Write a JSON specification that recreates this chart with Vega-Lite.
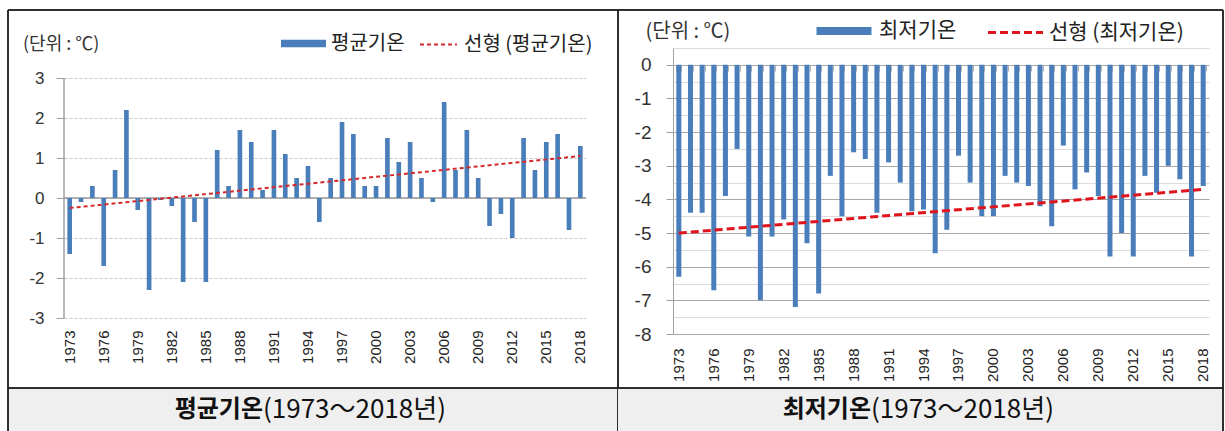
{
  "$schema": "https://vega.github.io/schema/vega-lite/v6.json",
  "background": "white",
  "padding": {"left": 7, "top": 9, "right": 3, "bottom": 0},
  "config": {"view": {"stroke": null}, "font": "Noto Sans CJK KR"},
  "datasets": {
    "mean": [
      {"year": 1973, "temp": -1.4}, {"year": 1974, "temp": -0.1}, {"year": 1975, "temp": 0.3}, {"year": 1976, "temp": -1.7},
      {"year": 1977, "temp": 0.7}, {"year": 1978, "temp": 2.2}, {"year": 1979, "temp": -0.3}, {"year": 1980, "temp": -2.3},
      {"year": 1981, "temp": -0.05}, {"year": 1982, "temp": -0.2}, {"year": 1983, "temp": -2.1}, {"year": 1984, "temp": -0.6},
      {"year": 1985, "temp": -2.1}, {"year": 1986, "temp": 1.2}, {"year": 1987, "temp": 0.3}, {"year": 1988, "temp": 1.7},
      {"year": 1989, "temp": 1.4}, {"year": 1990, "temp": 0.2}, {"year": 1991, "temp": 1.7}, {"year": 1992, "temp": 1.1},
      {"year": 1993, "temp": 0.5}, {"year": 1994, "temp": 0.8}, {"year": 1995, "temp": -0.6}, {"year": 1996, "temp": 0.5},
      {"year": 1997, "temp": 1.9}, {"year": 1998, "temp": 1.6}, {"year": 1999, "temp": 0.3}, {"year": 2000, "temp": 0.3},
      {"year": 2001, "temp": 1.5}, {"year": 2002, "temp": 0.9}, {"year": 2003, "temp": 1.4}, {"year": 2004, "temp": 0.5},
      {"year": 2005, "temp": -0.1}, {"year": 2006, "temp": 2.4}, {"year": 2007, "temp": 0.7}, {"year": 2008, "temp": 1.7},
      {"year": 2009, "temp": 0.5}, {"year": 2010, "temp": -0.7}, {"year": 2011, "temp": -0.4}, {"year": 2012, "temp": -1.0},
      {"year": 2013, "temp": 1.5}, {"year": 2014, "temp": 0.7}, {"year": 2015, "temp": 1.4}, {"year": 2016, "temp": 1.6},
      {"year": 2017, "temp": -0.8}, {"year": 2018, "temp": 1.3}
    ],
    "min": [
      {"year": 1973, "temp": -6.3}, {"year": 1974, "temp": -4.4}, {"year": 1975, "temp": -4.4}, {"year": 1976, "temp": -6.7},
      {"year": 1977, "temp": -3.9}, {"year": 1978, "temp": -2.5}, {"year": 1979, "temp": -5.1}, {"year": 1980, "temp": -7.0},
      {"year": 1981, "temp": -5.1}, {"year": 1982, "temp": -4.6}, {"year": 1983, "temp": -7.2}, {"year": 1984, "temp": -5.3},
      {"year": 1985, "temp": -6.8}, {"year": 1986, "temp": -3.3}, {"year": 1987, "temp": -4.5}, {"year": 1988, "temp": -2.6},
      {"year": 1989, "temp": -2.8}, {"year": 1990, "temp": -4.4}, {"year": 1991, "temp": -2.9}, {"year": 1992, "temp": -3.5},
      {"year": 1993, "temp": -4.35}, {"year": 1994, "temp": -4.3}, {"year": 1995, "temp": -5.6}, {"year": 1996, "temp": -4.9},
      {"year": 1997, "temp": -2.7}, {"year": 1998, "temp": -3.5}, {"year": 1999, "temp": -4.5}, {"year": 2000, "temp": -4.5},
      {"year": 2001, "temp": -3.3}, {"year": 2002, "temp": -3.5}, {"year": 2003, "temp": -3.6}, {"year": 2004, "temp": -4.2},
      {"year": 2005, "temp": -4.8}, {"year": 2006, "temp": -2.4}, {"year": 2007, "temp": -3.7}, {"year": 2008, "temp": -3.2},
      {"year": 2009, "temp": -3.9}, {"year": 2010, "temp": -5.7}, {"year": 2011, "temp": -5.0}, {"year": 2012, "temp": -5.7},
      {"year": 2013, "temp": -3.3}, {"year": 2014, "temp": -3.8}, {"year": 2015, "temp": -3.0}, {"year": 2016, "temp": -3.4},
      {"year": 2017, "temp": -5.7}, {"year": 2018, "temp": -3.6}
    ],
    "meanTrend": [{"year": 1973, "trend": -0.25}, {"year": 2018, "trend": 1.05}],
    "minTrend": [{"year": 1973, "trend": -5.0}, {"year": 2018, "trend": -3.7}],
    "units": [{"label": "(단위 : ℃)"}],
    "captions": [{"panel": "mean", "bold": "평균기온", "rest": "(1973～2018년)"}, {"panel": "min", "bold": "최저기온", "rest": "(1973～2018년)"}]
  },
  "columns": 6,
  "align": "each",
  "bounds": "flush",
  "spacing": 0,
  "resolve": {"scale": {"fill": "independent", "stroke": "independent"}},
  "concat": [
    {
      "width": 56, "height": 38,
      "layer": [
        {"data": {"name": "meanTrend"}, "mark": {"type": "rule", "color": "#222", "strokeWidth": 1.5}, "encoding": {"x": {"datum": 0, "type": "quantitative", "scale": {"domain": [0, 1], "nice": false}, "axis": null}}},
        {"data": {"name": "meanTrend"}, "mark": {"type": "rule", "color": "#222", "strokeWidth": 1.5}, "encoding": {"y": {"datum": 1, "type": "quantitative", "scale": {"domain": [0, 1], "nice": false}, "axis": null}}},
        {"data": {"name": "units"}, "mark": {"type": "text", "align": "left", "baseline": "middle", "dx": -13, "dy": 16, "fontSize": 18, "font": "Noto Sans CJK KR", "color": "#333"}, "encoding": {"text": {"field": "label"}}}
      ]
    },
    {
      "width": 522, "height": 38, "data": {"name": "meanTrend"},
      "mark": {"type": "rule", "color": "#222", "strokeWidth": 1.5},
      "encoding": {"y": {"datum": 1, "type": "quantitative", "scale": {"domain": [0, 1], "nice": false}, "axis": null}}
    },
    {
      "width": 32, "height": 38, "data": {"name": "meanTrend"},
      "layer": [
        {"mark": {"type": "rule", "color": "#222", "strokeWidth": 1.5}, "encoding": {"x": {"datum": 1, "type": "quantitative", "scale": {"domain": [0, 1], "nice": false}, "axis": null}}},
        {"mark": {"type": "rule", "color": "#222", "strokeWidth": 1.5}, "encoding": {"y": {"datum": 1, "type": "quantitative", "scale": {"domain": [0, 1], "nice": false}, "axis": null}}}
      ]
    },
    {
      "width": 55, "height": 38,
      "layer": [
        {"data": {"name": "meanTrend"}, "mark": {"type": "rule", "color": "#222", "strokeWidth": 1.5}, "encoding": {"y": {"datum": 1, "type": "quantitative", "scale": {"domain": [0, 1], "nice": false}, "axis": null}}},
        {"data": {"name": "units"}, "mark": {"type": "text", "align": "left", "baseline": "middle", "dx": 0, "dy": 3, "fontSize": 20, "font": "Noto Sans CJK KR", "color": "#333"}, "encoding": {"text": {"field": "label"}}}
      ]
    },
    {
      "width": 536, "height": 38, "data": {"name": "minTrend"},
      "mark": {"type": "rule", "color": "#222", "strokeWidth": 1.5},
      "encoding": {"y": {"datum": 1, "type": "quantitative", "scale": {"domain": [0, 1], "nice": false}, "axis": null}}
    },
    {
      "width": 14, "height": 38, "data": {"name": "minTrend"},
      "layer": [
        {"mark": {"type": "rule", "color": "#222", "strokeWidth": 1.5}, "encoding": {"x": {"datum": 1, "type": "quantitative", "scale": {"domain": [0, 1], "nice": false}, "axis": null}}},
        {"mark": {"type": "rule", "color": "#222", "strokeWidth": 1.5}, "encoding": {"y": {"datum": 1, "type": "quantitative", "scale": {"domain": [0, 1], "nice": false}, "axis": null}}}
      ]
    },

    {
      "width": 56, "height": 286, "data": {"name": "meanTrend"},
      "mark": {"type": "rule", "color": "#222", "strokeWidth": 1.5},
      "encoding": {"x": {"datum": 0, "type": "quantitative", "scale": {"domain": [0, 1], "nice": false}, "axis": null}}
    },
    {
      "width": 522, "height": 286,
      "resolve": {"scale": {"x": "independent"}, "axis": {"x": "independent"}},
      "layer": [
        {
          "data": {"name": "meanTrend"},
          "mark": {"type": "rule", "color": "#a0a0a0", "strokeWidth": 1},
          "encoding": {
            "x": {"datum": 0, "type": "quantitative", "scale": {"domain": [0, 1], "nice": false}, "axis": null},
            "y": {"datum": -3, "type": "quantitative"},
            "y2": {"datum": 3}
          }
        },
        {
          "layer": [
            {
              "data": {"name": "meanTrend"},
              "mark": {"type": "rule", "color": "#999", "strokeWidth": 1},
              "encoding": {"y": {"datum": 0, "type": "quantitative"}}
            },
            {
              "data": {"name": "mean"},
              "mark": {"type": "bar"},
              "encoding": {
                "x": {"field": "year", "type": "ordinal", "scale": {"paddingInner": 0.59, "paddingOuter": 0.295},
                  "axis": {"values": [1973, 1976, 1979, 1982, 1985, 1988, 1991, 1994, 1997, 2000, 2003, 2006, 2009, 2012, 2015, 2018],
                    "labelAngle": 270, "labelOverlap": false, "ticks": false, "domain": false, "grid": false, "labelPadding": -4, "labelFontSize": 15,
                    "labelFont": "Liberation Sans", "labelColor": "#222", "title": null}},
                "y": {"field": "temp", "type": "quantitative", "scale": {"domain": [-3.4, 3.75], "nice": false, "zero": false},
                  "axis": {"values": [-3, -2, -1, 0, 1, 2, 3], "labelExpr": "'' + datum.value", "labelOverlap": false, "grid": true, "gridColor": "#c8c8c8", "gridDash": [3, 2],
                    "domain": false, "ticks": true, "tickColor": "#a0a0a0", "tickSize": 8, "labelPadding": 12,
                    "labelFontSize": 17, "labelFont": "Liberation Sans", "labelColor": "#333", "title": null}},
                "fill": {"datum": "평균기온", "type": "nominal", "scale": {"range": ["#4A7EBB"]},
                  "legend": {"orient": "none", "legendX": 217, "legendY": -27, "title": null, "symbolType": "M-1,-0.17H1V0.17H-1Z", "symbolSize": 2025,
                    "symbolStrokeWidth": 0, "labelFontSize": 20, "labelFont": "Noto Sans CJK KR", "labelColor": "#222", "labelOffset": 5, "padding": 0}}
              }
            },
            {
              "data": {"name": "meanTrend"},
              "mark": {"type": "line", "strokeDash": [4, 3], "strokeWidth": 2},
              "encoding": {
                "x": {"field": "year", "type": "ordinal"},
                "y": {"field": "trend", "type": "quantitative"},
                "stroke": {"datum": "선형 (평균기온)", "type": "nominal", "scale": {"range": ["#D42A2A"]},
                  "legend": {"orient": "none", "legendX": 355, "legendY": -23, "title": null, "symbolType": "stroke", "symbolSize": 1369,
                    "symbolStrokeWidth": 2, "symbolDash": [4, 3], "labelFontSize": 20, "labelFont": "Noto Sans CJK KR", "labelColor": "#222", "labelOffset": 6, "padding": 0}}
              }
            }
          ]
        }
      ]
    },
    {
      "width": 32, "height": 286, "data": {"name": "meanTrend"},
      "mark": {"type": "rule", "color": "#222", "strokeWidth": 1.5},
      "encoding": {"x": {"datum": 1, "type": "quantitative", "scale": {"domain": [0, 1], "nice": false}, "axis": null}}
    },
    {
      "width": 55, "height": 286, "data": {"name": "meanTrend"},
      "mark": {"type": "rule", "opacity": 0},
      "encoding": {"x": {"datum": 1, "type": "quantitative", "scale": {"domain": [0, 1], "nice": false}, "axis": null}}
    },
    {
      "width": 536, "height": 286,
      "resolve": {"axis": {"x": "independent", "y": "independent"}},
      "layer": [
        {
          "data": {"name": "min"},
          "mark": {"type": "bar"},
          "encoding": {
            "x": {"field": "year", "type": "ordinal", "scale": {"paddingInner": 0.57, "paddingOuter": 0.285},
              "axis": {"values": [1973, 1976, 1979, 1982, 1985, 1988, 1991, 1994, 1997, 2000, 2003, 2006, 2009, 2012, 2015, 2018],
                "labelAngle": 270, "labelOverlap": false, "ticks": false, "domain": false, "grid": false, "labelPadding": 14, "labelFontSize": 15,
                "labelFont": "Liberation Sans", "labelColor": "#222", "title": null}},
            "y": {"field": "temp", "type": "quantitative", "scale": {"domain": [-8, 0.5], "nice": false},
              "axis": {"values": [-8, -7, -6, -5, -4, -3, -2, -1, 0],
                "labelExpr": "'' + datum.value", "labelOverlap": false, "grid": true, "gridColor": "#a8a8a8",
                "domain": true, "domainColor": "#a0a0a0", "ticks": true, "tickColor": "#a0a0a0",
                "tickSize": 7, "labelPadding": 15, "labelFontSize": 19, "labelFont": "Liberation Sans", "labelColor": "#333", "title": null}},
            "fill": {"datum": "최저기온", "type": "nominal", "scale": {"range": ["#4A7EBB"]},
              "legend": {"orient": "none", "legendX": 150, "legendY": -38, "title": null, "symbolType": "M-1.31,-0.19H1.31V0.19H-1.31Z", "symbolSize": 1764,
                "symbolStrokeWidth": 0, "labelFontSize": 21, "labelFont": "Noto Sans CJK KR", "labelColor": "#222", "labelOffset": 14, "padding": 0}}
          }
        },
        {
          "data": {"name": "minTrend"},
          "mark": {"type": "line", "strokeDash": [8, 4], "strokeWidth": 3},
          "encoding": {
            "x": {"field": "year", "type": "ordinal",
              "axis": {"orient": "top", "offset": -17, "labels": false, "domain": false, "grid": false, "ticks": true, "tickBand": "extent",
                "tickSize": -6, "tickColor": "#b0b0b0", "title": null}},
            "y": {"field": "trend", "type": "quantitative",
              "axis": {"orient": "right", "values": [-7.5, -6.5, -5.5, -4.5, -3.5, -2.5, -1.5, -0.5, 0.5], "labels": false, "ticks": false, "domain": false,
                "grid": true, "gridColor": "#dcdcdc", "title": null}},
            "stroke": {"datum": "선형 (최저기온)", "type": "nominal", "scale": {"range": ["#E0141C"]},
              "legend": {"orient": "none", "legendX": 320, "legendY": -38, "title": null, "symbolType": "M-1.31,0H1.31", "symbolSize": 1764,
                "symbolStrokeWidth": 3, "symbolDash": [8, 4], "labelFontSize": 21, "labelFont": "Noto Sans CJK KR", "labelColor": "#222", "labelOffset": 11, "padding": 0}}
          }
        }
      ]
    },
    {
      "width": 14, "height": 286, "data": {"name": "minTrend"},
      "mark": {"type": "rule", "color": "#222", "strokeWidth": 1.5},
      "encoding": {"x": {"datum": 1, "type": "quantitative", "scale": {"domain": [0, 1], "nice": false}, "axis": null}}
    },

    {
      "width": 56, "height": 54, "data": {"name": "meanTrend"},
      "mark": {"type": "rule", "color": "#222", "strokeWidth": 1.5},
      "encoding": {"x": {"datum": 0, "type": "quantitative", "scale": {"domain": [0, 1], "nice": false}, "axis": null}}
    },
    {
      "width": 522, "height": 54, "data": {"name": "meanTrend"},
      "mark": {"type": "rule", "opacity": 0},
      "encoding": {"x": {"datum": 1, "type": "quantitative", "scale": {"domain": [0, 1], "nice": false}, "axis": null}}
    },
    {
      "width": 32, "height": 54, "data": {"name": "meanTrend"},
      "mark": {"type": "rule", "color": "#222", "strokeWidth": 1.5},
      "encoding": {"x": {"datum": 1, "type": "quantitative", "scale": {"domain": [0, 1], "nice": false}, "axis": null}}
    },
    {
      "width": 55, "height": 54, "data": {"name": "meanTrend"},
      "mark": {"type": "rule", "opacity": 0},
      "encoding": {"x": {"datum": 1, "type": "quantitative", "scale": {"domain": [0, 1], "nice": false}, "axis": null}}
    },
    {
      "width": 536, "height": 54, "data": {"name": "minTrend"},
      "mark": {"type": "rule", "opacity": 0},
      "encoding": {"x": {"datum": 1, "type": "quantitative", "scale": {"domain": [0, 1], "nice": false}, "axis": null}}
    },
    {
      "width": 14, "height": 54, "data": {"name": "minTrend"},
      "mark": {"type": "rule", "color": "#222", "strokeWidth": 1.5},
      "encoding": {"x": {"datum": 1, "type": "quantitative", "scale": {"domain": [0, 1], "nice": false}, "axis": null}}
    },

    {
      "width": 56, "height": 44, "view": {"fill": "#efefef"}, "data": {"name": "meanTrend"},
      "layer": [
        {"mark": {"type": "rule", "color": "#222", "strokeWidth": 1.5}, "encoding": {"x": {"datum": 0, "type": "quantitative", "scale": {"domain": [0, 1], "nice": false}, "axis": null}}},
        {"mark": {"type": "rule", "color": "#222", "strokeWidth": 1.5}, "encoding": {"y": {"datum": 1, "type": "quantitative", "scale": {"domain": [0, 1], "nice": false}, "axis": null}}}
      ]
    },
    {
      "width": 522, "height": 44, "view": {"fill": "#efefef"},
      "layer": [
        {"data": {"name": "meanTrend"}, "mark": {"type": "rule", "color": "#222", "strokeWidth": 1.5}, "encoding": {"y": {"datum": 1, "type": "quantitative", "scale": {"domain": [0, 1], "nice": false}, "axis": null}}},
        {"data": {"name": "captions"}, "transform": [{"filter": "datum.panel === 'mean'"}], "mark": {"type": "text", "align": "right", "baseline": "middle", "dx": -62, "dy": 0, "fontSize": 24, "fontWeight": "bold", "font": "Noto Sans CJK KR", "color": "#111"}, "encoding": {"text": {"field": "bold"}}},
        {"data": {"name": "captions"}, "transform": [{"filter": "datum.panel === 'mean'"}], "mark": {"type": "text", "align": "left", "baseline": "middle", "dx": -62, "dy": 0, "fontSize": 26, "font": "Noto Sans CJK KR", "color": "#111"}, "encoding": {"text": {"field": "rest"}}}
      ]
    },
    {
      "width": 32, "height": 44, "view": {"fill": "#efefef"}, "data": {"name": "meanTrend"},
      "layer": [
        {"mark": {"type": "rule", "color": "#222", "strokeWidth": 1.5}, "encoding": {"x": {"datum": 1, "type": "quantitative", "scale": {"domain": [0, 1], "nice": false}, "axis": null}}},
        {"mark": {"type": "rule", "color": "#222", "strokeWidth": 1.5}, "encoding": {"y": {"datum": 1, "type": "quantitative", "scale": {"domain": [0, 1], "nice": false}, "axis": null}}}
      ]
    },
    {
      "width": 55, "height": 44, "view": {"fill": "#efefef"}, "data": {"name": "meanTrend"},
      "mark": {"type": "rule", "color": "#222", "strokeWidth": 1.5},
      "encoding": {"y": {"datum": 1, "type": "quantitative", "scale": {"domain": [0, 1], "nice": false}, "axis": null}}
    },
    {
      "width": 536, "height": 44, "view": {"fill": "#efefef"},
      "layer": [
        {"data": {"name": "minTrend"}, "mark": {"type": "rule", "color": "#222", "strokeWidth": 1.5}, "encoding": {"y": {"datum": 1, "type": "quantitative", "scale": {"domain": [0, 1], "nice": false}, "axis": null}}},
        {"data": {"name": "captions"}, "transform": [{"filter": "datum.panel === 'min'"}], "mark": {"type": "text", "align": "right", "baseline": "middle", "dx": -70, "dy": 0, "fontSize": 24, "fontWeight": "bold", "font": "Noto Sans CJK KR", "color": "#111"}, "encoding": {"text": {"field": "bold"}}},
        {"data": {"name": "captions"}, "transform": [{"filter": "datum.panel === 'min'"}], "mark": {"type": "text", "align": "left", "baseline": "middle", "dx": -70, "dy": 0, "fontSize": 26, "font": "Noto Sans CJK KR", "color": "#111"}, "encoding": {"text": {"field": "rest"}}}
      ]
    },
    {
      "width": 14, "height": 44, "view": {"fill": "#efefef"}, "data": {"name": "minTrend"},
      "layer": [
        {"mark": {"type": "rule", "color": "#222", "strokeWidth": 1.5}, "encoding": {"x": {"datum": 1, "type": "quantitative", "scale": {"domain": [0, 1], "nice": false}, "axis": null}}},
        {"mark": {"type": "rule", "color": "#222", "strokeWidth": 1.5}, "encoding": {"y": {"datum": 1, "type": "quantitative", "scale": {"domain": [0, 1], "nice": false}, "axis": null}}}
      ]
    }
  ]
}
